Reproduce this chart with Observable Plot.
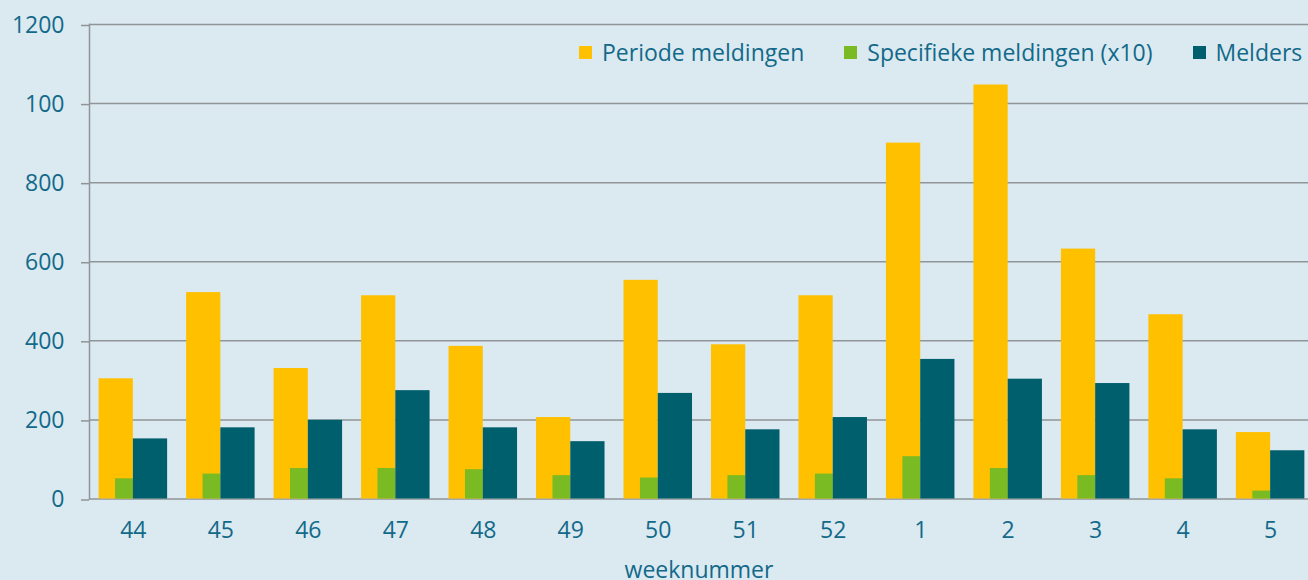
<!DOCTYPE html>
<html>
<head>
<meta charset="utf-8">
<script src="https://cdn.jsdelivr.net/npm/d3@7"></script>
<script src="https://cdn.jsdelivr.net/npm/@observablehq/plot@0.6"></script>
<style>
  html, body { margin: 0; padding: 0; overflow: hidden; background: #dbe9f0; }
  #wrap { position: relative; width: 1308px; height: 580px; background: #dbe9f0; font-family: "Open Sans", sans-serif; }
  #legend { position: absolute; top: 36px; left: 579px; height: 32px; display: flex; align-items: center; white-space: nowrap; font-size: 23px; color: #12698a; }
  #legend .item { display: flex; align-items: center; margin-right: 40px; }
  #legend .item:last-child { margin-right: 0; }
  #legend .sw { width: 13px; height: 13px; margin-right: 10px; }
</style>
</head>
<body>
<div id="wrap"><div id="chart"></div><div id="legend"></div></div>
<script>
const weeks = ["44","45","46","47","48","49","50","51","52","1","2","3","4","5"];
const periodeMeldingen = [304, 522, 330, 514, 386, 206, 553, 390, 514, 900, 1047, 632, 466, 168];
const specifiekeMeldingen = [51, 63, 77, 77, 74, 59, 53, 59, 63, 107, 77, 59, 51, 20];
const melders = [152, 180, 199, 274, 180, 145, 267, 175, 206, 353, 303, 292, 175, 122];
const seriesNames = ["Periode meldingen", "Specifieke meldingen (x10)", "Melders"];
const seriesColors = ["#ffc000", "#7aba22", "#005f6d"];
const yTicks = [0, 200, 400, 600, 800, 1000, 1200];
const yTickLabels = ["0", "200", "400", "600", "800", "100", "1200"];

const textColor = "#12698a";
const gridColor = "#8f9598";

const W = 1308, H = 580;
const mL = 89, mT = 24, mB = 81.5;
const xRange = [89, 1314];
const padIn = 0.217, padOut = 0.11;
const step = (xRange[1] - xRange[0]) / (weeks.length - padIn + 2 * padOut);
const half = step * (1 - padIn) / 2;
const greenInset = half * 0.48;

const dP = weeks.map((w, i) => ({week: w, value: periodeMeldingen[i]}));
const dS = weeks.map((w, i) => ({week: w, value: specifiekeMeldingen[i]}));
const dM = weeks.map((w, i) => ({week: w, value: melders[i]}));

const chart = Plot.plot({
  width: W,
  height: H,
  marginLeft: mL,
  marginRight: 0,
  marginTop: mT,
  marginBottom: mB,
  style: {background: "transparent", fontFamily: "Open Sans, sans-serif", fontSize: "23px", color: textColor},
  x: {domain: weeks, range: xRange, paddingInner: padIn, paddingOuter: padOut, round: false},
  y: {domain: [0, 1200]},
  marks: [
    Plot.ruleY(yTicks, {stroke: gridColor, strokeWidth: 1.5}),
    Plot.barY(dP, {x: "week", y: "value", fill: seriesColors[0], insetRight: half}),
    Plot.barY(dS, {x: "week", y: "value", fill: seriesColors[1], insetRight: half, insetLeft: greenInset}),
    Plot.barY(dM, {x: "week", y: "value", fill: seriesColors[2], insetLeft: half}),
    Plot.frame({anchor: "left", stroke: gridColor, strokeWidth: 1.5}),
    Plot.axisY({ticks: yTicks, tickFormat: d => yTickLabels[yTicks.indexOf(d)], tickSize: 8, tickPadding: 17,
      stroke: gridColor, strokeWidth: 1.5, fill: textColor, fontSize: 23, label: null, dy: 1}),
    Plot.axisX({tickSize: 0, tickPadding: 23, fill: textColor, fontSize: 23,
      label: "weeknummer", labelAnchor: "center", labelOffset: 79})
  ]
});
document.getElementById("chart").appendChild(chart);

const legend = document.getElementById("legend");
seriesNames.forEach((name, i) => {
  const item = document.createElement("div");
  item.className = "item";
  const sw = document.createElement("div");
  sw.className = "sw";
  sw.style.background = seriesColors[i];
  const lab = document.createElement("span");
  lab.textContent = name;
  item.appendChild(sw);
  item.appendChild(lab);
  legend.appendChild(item);
});
</script>
</body>
</html>
